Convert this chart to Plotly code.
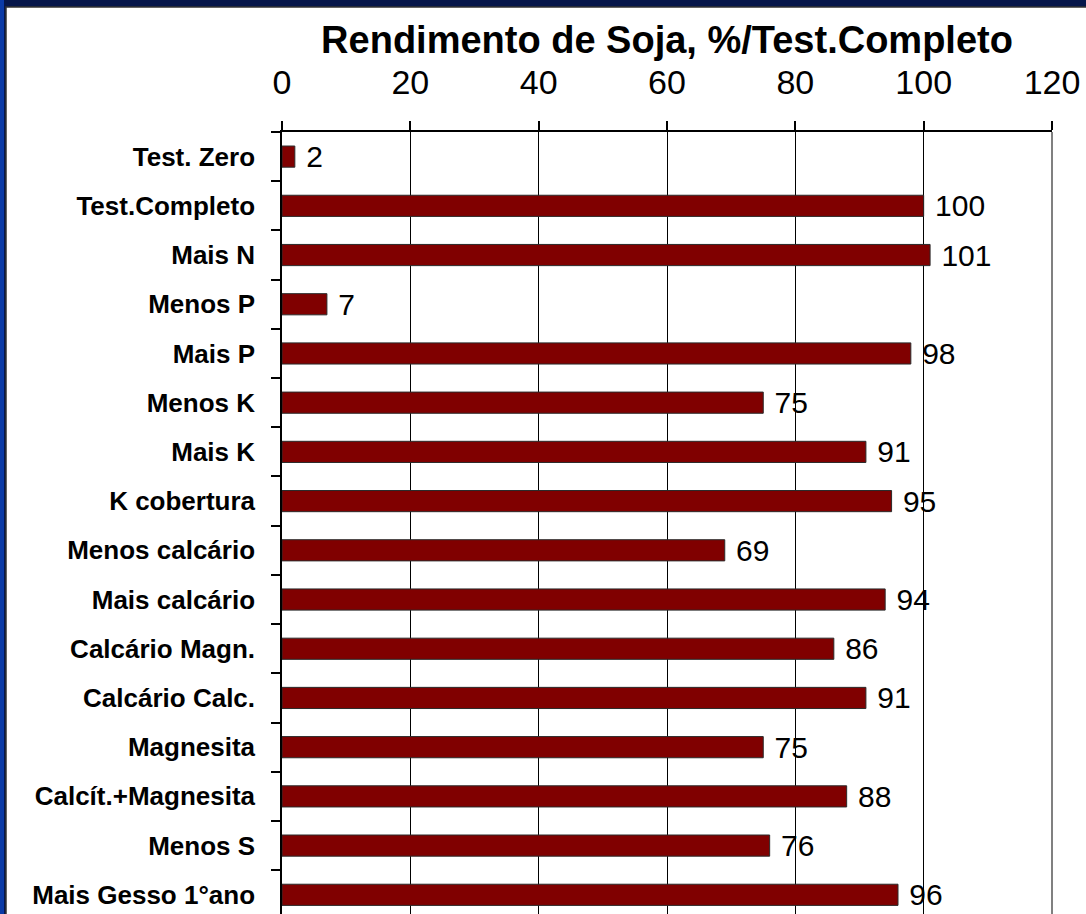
import plotly.graph_objects as go

categories = ["Test. Zero", "Test.Completo", "Mais N", "Menos P", "Mais P", "Menos K",
              "Mais K", "K cobertura", "Menos calcário", "Mais calcário", "Calcário Magn.",
              "Calcário Calc.", "Magnesita", "Calcít.+Magnesita", "Menos S", "Mais Gesso 1°ano"]
values = [2, 100, 101, 7, 98, 75, 91, 95, 69, 94, 86, 91, 75, 88, 76, 96]
x_ticks = [0, 20, 40, 60, 80, 100, 120]
title_text = "Rendimento de Soja, %/Test.Completo"

FONT = "Liberation Sans, Arial, sans-serif"

fig = go.Figure()
fig.add_trace(go.Bar(
    y=categories, x=values, orientation="h",
    width=0.43,
    marker=dict(color="#800000", line=dict(color="#2a2a2a", width=1)),
    text=["\u00a0" + str(v) for v in values],
    textposition="outside",
    constraintext="none",
    textfont=dict(family=FONT, size=30, color="black"),
    outsidetextfont=dict(family=FONT, size=30, color="black"),
    cliponaxis=False,
))

W, H = 1086, 914
L, R, T, B = 282, 34, 132, 0

fig.update_layout(
    width=W, height=H,
    margin=dict(l=L, r=R, t=T, b=B, pad=0),
    paper_bgcolor="#06164a",
    plot_bgcolor="white",
    showlegend=False,
    title=dict(text="<b>" + title_text + "</b>", x=(L + (W - L - R) / 2) / W, xanchor="center",
               y=1 - 40 / H, yanchor="middle",
               font=dict(family=FONT, size=38, color="black")),
    xaxis=dict(
        side="top", range=[0, 120], tickvals=x_ticks,
        showgrid=True, gridcolor="black", gridwidth=1,
        showline=True, linecolor="black", linewidth=1.5,
        ticks="outside", ticklen=9, tickcolor="black", tickwidth=1.5,
        ticklabelstandoff=14,
        tickfont=dict(family=FONT, size=34, color="black"),
        zeroline=False, fixedrange=True,
    ),
    yaxis=dict(
        type="category", categoryorder="array", categoryarray=categories,
        range=[15.39, -0.5],
        tickson="boundaries", ticks="outside", ticklen=9, tickcolor="black", tickwidth=1.5,
        showline=True, linecolor="black", linewidth=1.5,
        showgrid=False, ticklabelstandoff=20,
        tickfont=dict(family=FONT, size=26, color="black", weight="bold"),
        fixedrange=True,
    ),
    shapes=[
        # blue left border band
        dict(type="rect", xref="paper", yref="paper",
             x0=-L / (W - L - R), x1=-(L - 4) / (W - L - R), y0=-0.01, y1=1 + T / (H - T),
             fillcolor="#0b3aa6", line=dict(width=0), layer="below"),
        # white panel
        dict(type="rect", xref="paper", yref="paper",
             x0=-(L - 6) / (W - L - R), x1=1 + R / (W - L - R) + 0.01,
             y0=-0.01, y1=1 + (T - 7) / (H - T),
             fillcolor="white", line=dict(color="#333333", width=1.5), layer="below"),
        # right gray border of plot
        dict(type="line", xref="paper", yref="paper", x0=1, x1=1, y0=0, y1=1,
             line=dict(color="#808080", width=2)),
    ],
)

fig.write_html("out.html", config={"displayModeBar": False},
               post_script="document.body.style.margin='0';document.body.style.overflow='hidden';")
